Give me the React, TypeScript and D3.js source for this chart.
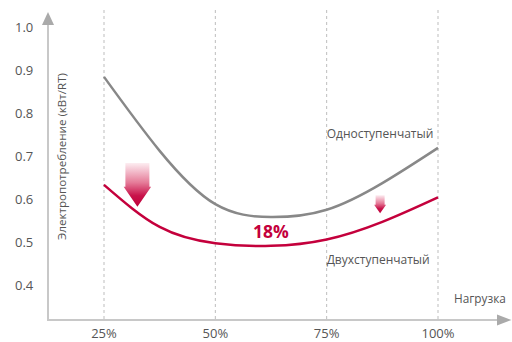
import React from "react";
import * as d3 from "d3";

const loads = [25, 37.5, 50, 62.5, 75, 87.5, 100];
const singleStage = [0.884, 0.712, 0.588, 0.558, 0.575, 0.637, 0.719];
const twoStage = [0.633, 0.535, 0.497, 0.491, 0.506, 0.547, 0.604];
const yTicks = [0.4, 0.5, 0.6, 0.7, 0.8, 0.9, 1.0];
const xTicks = [25, 50, 75, 100];
const xTickLabels = ["25%", "50%", "75%", "100%"];
const seriesLabels = ["Одноступенчатый", "Двухступенчатый"];
const yTitle = "Электропотребление (кВт/RT)";
const xTitle = "Нагрузка";
const savingLabel = "18%";

const W = 512;
const H = 342;
const RED = "#c4003c";
const GRAY = "#888888";
const TEXT = "#555";
const FONT = "'Open Sans', 'Noto Sans', sans-serif";

export default function App() {
  const x = d3.scaleLinear().domain([25, 100]).range([104, 438]);
  const y = d3.scaleLinear().domain([0.4, 1.0]).range([285, 27]);
  const line = d3
    .line<number>()
    .x((_, i) => x(loads[i]))
    .y((d) => y(d))
    .curve(d3.curveNatural);

  const axisX = 48;
  const axisY = 320;

  const arrow = (cx: number, top: number, tip: number, shaftW: number, headW: number, headH: number) => {
    const hs = tip - headH;
    return `M${cx - shaftW / 2},${top} L${cx + shaftW / 2},${top} L${cx + shaftW / 2},${hs} L${cx + headW / 2},${hs} L${cx},${tip} L${cx - headW / 2},${hs} L${cx - shaftW / 2},${hs} Z`;
  };

  return (
    <svg width={W} height={H} style={{ position: "absolute", left: 0, top: 0 }} fontFamily={FONT}>
      <defs>
        <linearGradient id="arrowGrad" x1="0" y1="0" x2="0" y2="1">
          <stop offset="0%" stopColor="#fdeef2" />
          <stop offset="45%" stopColor="#e57b98" />
          <stop offset="75%" stopColor="#c8124a" />
          <stop offset="100%" stopColor="#c0003a" />
        </linearGradient>
      </defs>
      <rect width={W} height={H} fill="#fff" />
      {xTicks.map((t) => (
        <line key={t} x1={x(t)} x2={x(t)} y1={10} y2={axisY} stroke="#bdbdbd" strokeWidth={1} strokeDasharray="3,3" />
      ))}
      <line x1={axisX} x2={axisX} y1={22} y2={axisY} stroke="#c8c8c8" strokeWidth={2} />
      <path d={`M${axisX},12 L${axisX + 6},25 L${axisX - 6},25 Z`} fill="#aaa" />
      <line x1={axisX - 1} x2={500} y1={axisY} y2={axisY} stroke="#c8c8c8" strokeWidth={2} />
      <path d={`M511.5,${axisY} L497,${axisY - 5.5} L497,${axisY + 5.5} Z`} fill="#aaa" />
      {yTicks.map((t) => (
        <text key={t} x={15} y={y(t) + 4.5} fontSize={13} fill={TEXT}>
          {t.toFixed(1)}
        </text>
      ))}
      {xTicks.map((t, i) => (
        <text key={t} x={x(t)} y={338} fontSize={13} fill={TEXT} textAnchor="middle">
          {xTickLabels[i]}
        </text>
      ))}
      <text transform={`translate(66,${156.5}) rotate(-90)`} fontSize={11.6} fill={TEXT} textAnchor="middle">
        {yTitle}
      </text>
      <text x={454} y={302.5} fontSize={11.8} fill={TEXT}>
        {xTitle}
      </text>
      <path d={line(singleStage) || ""} fill="none" stroke={GRAY} strokeWidth={2.5} />
      <path d={line(twoStage) || ""} fill="none" stroke={RED} strokeWidth={2.5} />
      <text x={x(75)} y={y(0.741)} fontSize={12} fill={TEXT}>
        {seriesLabels[0]}
      </text>
      <text x={x(75)} y={y(0.45)} fontSize={12} fill={TEXT}>
        {seriesLabels[1]}
      </text>
      <text x={x(62.5)} y={y(0.509)} fontSize={17.5} fontWeight="bold" fill={RED} textAnchor="middle">
        {savingLabel}
      </text>
      <path d={arrow(x(32.5), y(0.684), y(0.582), 24, 27.5, 20)} fill="url(#arrowGrad)" />
      <path d={arrow(x(87.0), y(0.609), y(0.567), 9, 12, 8.5)} fill="url(#arrowGrad)" />
    </svg>
  );
}
